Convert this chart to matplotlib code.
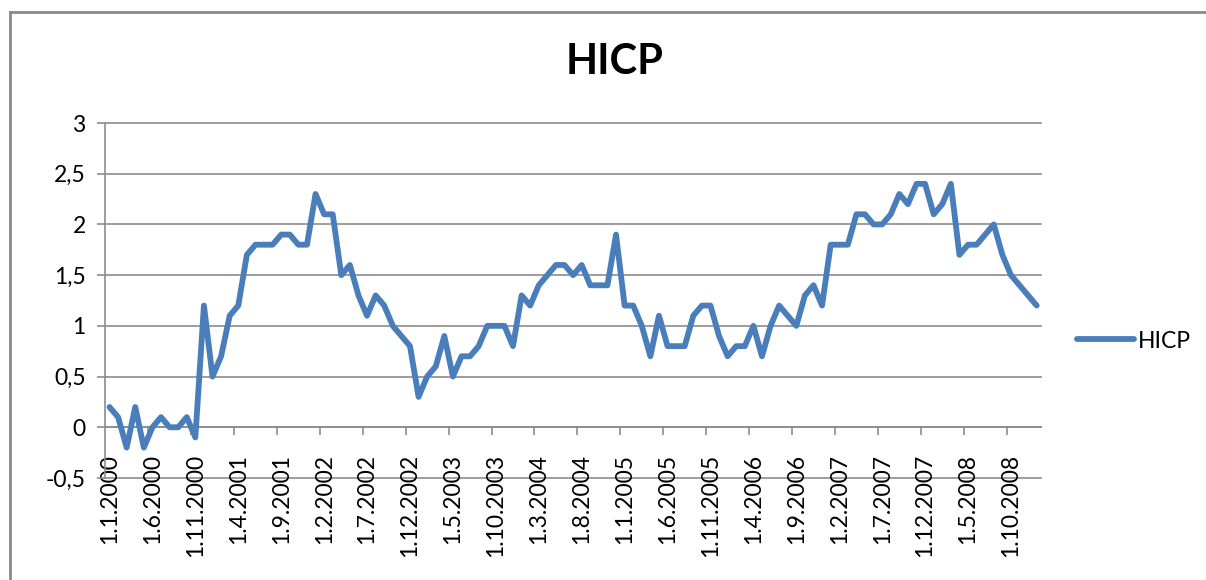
import matplotlib
matplotlib.use("Agg")
import matplotlib.pyplot as plt
from matplotlib.lines import Line2D

plt.rcParams['font.family'] = ['Lato', 'DejaVu Sans']

# ---- data ----
series_name = "HICP"
hicp = [0.2, 0.1, -0.2, 0.2, -0.2, 0.0, 0.1, 0.0, 0.0, 0.1, -0.1,
        1.2, 0.5, 0.7, 1.1, 1.2, 1.7, 1.8, 1.8, 1.8, 1.9, 1.9, 1.8, 1.8, 2.3, 2.1, 2.1, 1.5,
        1.6, 1.3, 1.1, 1.3, 1.2, 1.0, 0.9, 0.8, 0.3, 0.5, 0.6, 0.9, 0.5, 0.7, 0.7, 0.8,
        1.0, 1.0, 1.0, 0.8, 1.3, 1.2, 1.4, 1.5, 1.6, 1.6, 1.5,
        1.6, 1.4, 1.4, 1.4, 1.9, 1.2, 1.2, 1.0, 0.7, 1.1, 0.8, 0.8, 0.8, 1.1, 1.2, 1.2,
        0.9, 0.7, 0.8, 0.8, 1.0, 0.7, 1.0, 1.2, 1.1, 1.0,
        1.3, 1.4, 1.2, 1.8, 1.8, 1.8, 2.1, 2.1, 2.0, 2.0, 2.1, 2.3, 2.2, 2.4, 2.4, 2.1,
        2.2, 2.4, 1.7, 1.8, 1.8, 1.9, 2.0, 1.7, 1.5, 1.4, 1.3, 1.2]
x_labels = ["1.1.2000", "1.6.2000", "1.11.2000", "1.4.2001", "1.9.2001", "1.2.2002",
            "1.7.2002", "1.12.2002", "1.5.2003", "1.10.2003", "1.3.2004", "1.8.2004",
            "1.1.2005", "1.6.2005", "1.11.2005", "1.4.2006", "1.9.2006", "1.2.2007",
            "1.7.2007", "1.12.2007", "1.5.2008", "1.10.2008"]
label_step = 5
y_ticks = [-0.5, 0, 0.5, 1, 1.5, 2, 2.5, 3]
y_labels = ["-0,5", "0", "0,5", "1", "1,5", "2", "2,5", "3"]

# ---- figure ----
W, H = 1206, 580
fig = plt.figure(figsize=(W / 100, H / 100), dpi=100)
fig.patch.set_facecolor("white")

left, right, top, bottom = 105.2, 1041, 123, 478
ax = fig.add_axes([left / W, 1 - bottom / H, (right - left) / W, (bottom - top) / H])

n = len(hicp)
xs = list(range(n))
line_color = "#4A7EBB"
grid_color = "#8C8C8C"

for v in y_ticks:
    ax.axhline(v, color=grid_color, lw=1.2, zorder=1, clip_on=False)

ax.plot(xs, hicp, color=line_color, lw=4.2, solid_joinstyle="round",
        solid_capstyle="round", zorder=3, label=series_name, clip_on=False)

ax.set_xlim(-0.5, n - 0.5)
ax.set_ylim(-0.5, 3)

for s in ["top", "right"]:
    ax.spines[s].set_visible(False)
ax.spines["left"].set_color(grid_color)
ax.spines["left"].set_linewidth(1.2)
ax.spines["bottom"].set_position(("data", 0))
ax.spines["bottom"].set_color(grid_color)
ax.spines["bottom"].set_linewidth(1.2)

ax.set_yticks(y_ticks)
ax.set_yticklabels(y_labels)
ax.tick_params(axis="y", direction="out", length=6, width=1.2, color=grid_color,
               pad=8, labelsize=16.5, labelcolor="black")

major_pos = [i * label_step for i in range(len(x_labels))]
ax.set_xticks(major_pos)
ax.set_xticklabels(x_labels, rotation=90)
minor_pos = [p - 0.5 for p in major_pos if p > 0]
ax.set_xticks(minor_pos, minor=True)
ax.tick_params(axis="x", which="major", length=0, pad=19, labelsize=16.5, labelcolor="black")
ax.tick_params(axis="x", which="minor", direction="out", length=5.5, width=1.2,
               color=grid_color)

ax.set_facecolor("none")

fig.text(615 / W, 1 - 62 / H, series_name, ha="center", va="center",
         fontsize=30, fontweight="bold")

leg = ax.legend(loc="center left", bbox_to_anchor=(1077 / W, 1 - 341 / H),
                bbox_transform=fig.transFigure, frameon=False, fontsize=16.5,
                handlelength=2.5, handletextpad=0.15, borderpad=0, borderaxespad=0)

# chart border (left and top edges visible)
fig.add_artist(Line2D([9.5 / W, 9.5 / W], [0, 1 - 12 / H], transform=fig.transFigure,
                      color="#8A8A8A", lw=2))
fig.add_artist(Line2D([9.5 / W, 1], [1 - 12 / H, 1 - 12 / H], transform=fig.transFigure,
                      color="#8A8A8A", lw=2))

fig.savefig("out.png", dpi=100)
